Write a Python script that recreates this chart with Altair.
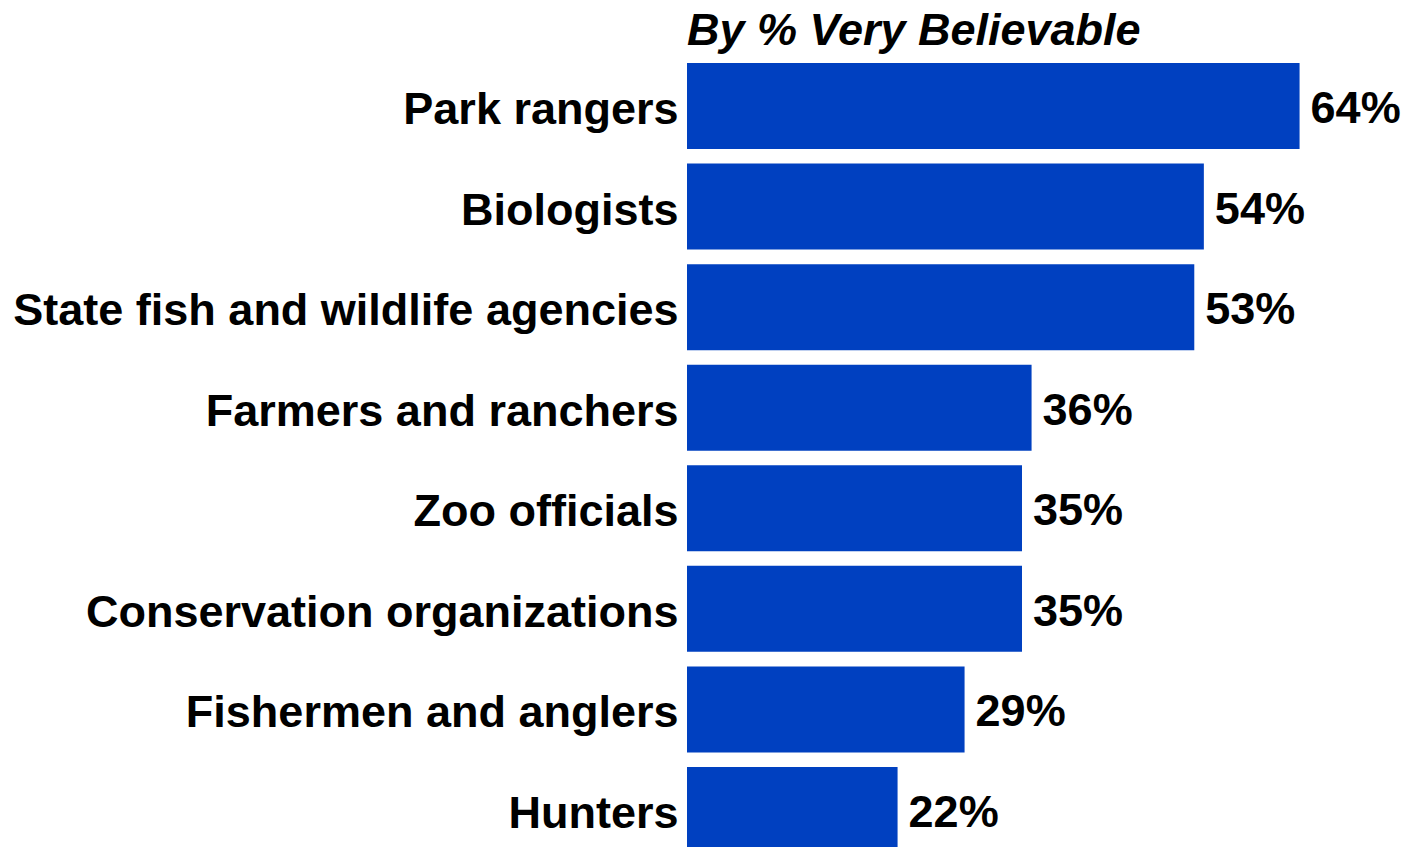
import altair as alt
import pandas as pd

categories = ["Park rangers", "Biologists", "State fish and wildlife agencies",
              "Farmers and ranchers", "Zoo officials", "Conservation organizations",
              "Fishermen and anglers", "Hunters"]
values = [64, 54, 53, 36, 35, 35, 29, 22]
title_text = "By % Very Believable"

df = pd.DataFrame({"cat": categories, "val": values,
                   "lab": [f"{v}%" for v in values]})

FONT = "Liberation Sans"
BLUE = "#0040c0"

y = alt.Y("cat:N", sort=categories, title=None,
          scale=alt.Scale(paddingInner=0.145, paddingOuter=0, range=[0, 790]),
          axis=alt.Axis(domain=False, ticks=False, labelPadding=9, labelOffset=4,
                        labelFontSize=45, labelFont=FONT, labelFontWeight="bold",
                        labelColor="black", labelLimit=0))
x = alt.X("val:Q", scale=alt.Scale(domain=[0, 70], nice=False, zero=True),
          axis=None)

bars = alt.Chart(df).mark_bar(color=BLUE).encode(x=x, y=y)
labels = alt.Chart(df).mark_text(align="left", baseline="middle", dx=11, dy=3,
                                 fontSize=45, font=FONT, fontWeight="bold",
                                 color="black").encode(x=x, y=y, text="lab:N")
title = alt.Chart(pd.DataFrame({"t": [title_text]})).mark_text(
    align="left", baseline="alphabetic", fontSize=45, font=FONT,
    fontWeight="bold", fontStyle="italic", color="black"
).encode(x=alt.value(0), y=alt.value(-18), text="t:N")

chart = alt.layer(bars, labels, title).properties(
    width=670, height=784,
    background="white",
    autosize=alt.AutoSizeParams(type="none"),
    padding={"left": 687, "top": 63, "right": 49, "bottom": 0},
).configure_view(stroke=None, strokeWidth=0)

chart.save("out.html", embed_options={"renderer": "svg", "actions": False})
